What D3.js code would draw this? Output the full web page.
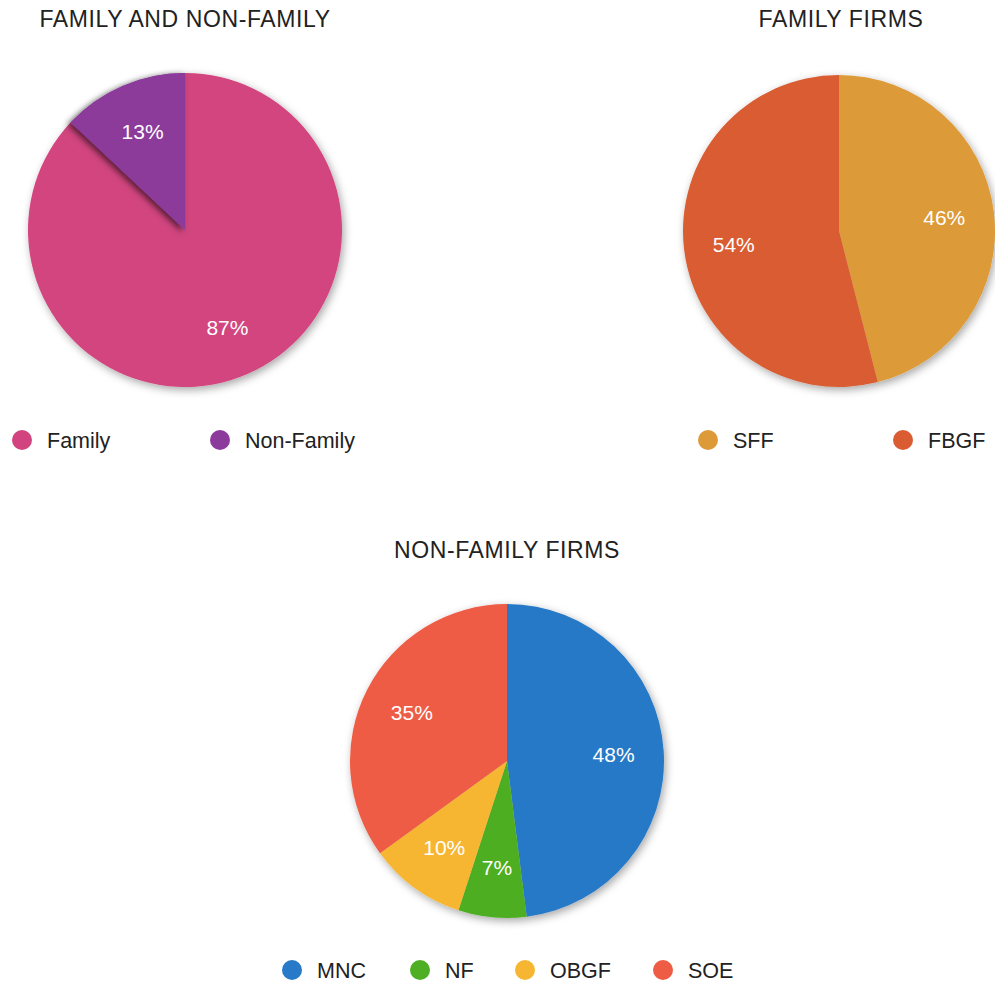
<!DOCTYPE html>
<html><head><meta charset="utf-8">
<script src="https://cdn.jsdelivr.net/npm/d3@7"></script>
<style>body{margin:0;background:#fff}svg{display:block}text{font-family:"Liberation Sans",Arial,Helvetica,sans-serif}</style>
</head><body>
<script>
const pie1Labels = ["Family", "Non-Family"];
const pie1Values = [87, 13];
const pie1Colors = ["#D2447F", "#8C3A9B"];
const pie2Labels = ["SFF", "FBGF"];
const pie2Values = [46, 54];
const pie2Colors = ["#DD9A38", "#D95C33"];
const pie3Labels = ["MNC", "NF", "OBGF", "SOE"];
const pie3Values = [48, 7, 10, 35];
const pie3Colors = ["#2879C7", "#4EAE24", "#F6B632", "#EE5C45"];

const svg = d3.select("body").append("svg").attr("width", 995).attr("height", 983);
const defs = svg.append("defs");
const f = defs.append("filter").attr("id","sh").attr("x","-20%").attr("y","-20%").attr("width","140%").attr("height","140%");
f.append("feDropShadow").attr("dx",2).attr("dy",3).attr("stdDeviation",4).attr("flood-color","#000").attr("flood-opacity",0.35);
const f2 = defs.append("filter").attr("id","sh2").attr("x","-50%").attr("y","-50%").attr("width","200%").attr("height","200%");
f2.append("feDropShadow").attr("dx",-3).attr("dy",2).attr("stdDeviation",3).attr("flood-color","#000").attr("flood-opacity",0.6);

function drawPie(cfg){
  const {labels, values, colors, cx, cy, r, title, titleX, titleY, legend} = cfg;
  svg.append("text").attr("x", titleX).attr("y", titleY).attr("text-anchor","middle")
    .attr("font-size", 23).attr("letter-spacing", 0.6).attr("fill","#222").text(title);
  const pie = d3.pie().sort(null).value(d=>d)(values);
  const arc = d3.arc().innerRadius(0).outerRadius(r);
  const labelArc = d3.arc().innerRadius(r*0.68).outerRadius(r*0.68);
  const g = svg.append("g").attr("transform", `translate(${cx},${cy})`);
  g.append("g").attr("filter","url(#sh)").selectAll("path").data(pie).join("path")
    .attr("d", arc).attr("fill", (d,i)=>colors[i]);
  if (cfg.shadeIdx !== undefined) {
    g.append("path").datum(pie[cfg.shadeIdx]).attr("d", arc).attr("fill", colors[cfg.shadeIdx]).attr("filter","url(#sh2)");
  }
  g.selectAll("text.lbl").data(pie).join("text").attr("class","lbl")
    .attr("transform", d=>`translate(${labelArc.centroid(d)})`)
    .attr("text-anchor","middle").attr("dy","0.35em").attr("font-size",21).attr("fill","#fff")
    .text(d=>d.data+"%");
  const lg = svg.append("g");
  labels.forEach((l,i)=>{
    const [x,y] = legend[i];
    lg.append("circle").attr("cx",x).attr("cy",y).attr("r",10).attr("fill",colors[i]);
    lg.append("text").attr("x",x+25).attr("y",y).attr("dy","0.35em").attr("font-size",21.5).attr("fill","#222").text(l);
  });
}

drawPie({labels:pie1Labels, values:pie1Values, colors:pie1Colors, cx:185, cy:230, r:157,
  title:"FAMILY AND NON-FAMILY", titleX:185, titleY:27, legend:[[22,440],[220,440]], shadeIdx:1});
drawPie({labels:pie2Labels, values:pie2Values, colors:pie2Colors, cx:839, cy:231, r:156,
  title:"FAMILY FIRMS", titleX:841, titleY:27, legend:[[708,440],[903,440]]});
drawPie({labels:pie3Labels, values:pie3Values, colors:pie3Colors, cx:507, cy:761, r:157,
  title:"NON-FAMILY FIRMS", titleX:507, titleY:558, legend:[[292,970],[420,970],[525,970],[663,970]]});
</script>
</body></html>
